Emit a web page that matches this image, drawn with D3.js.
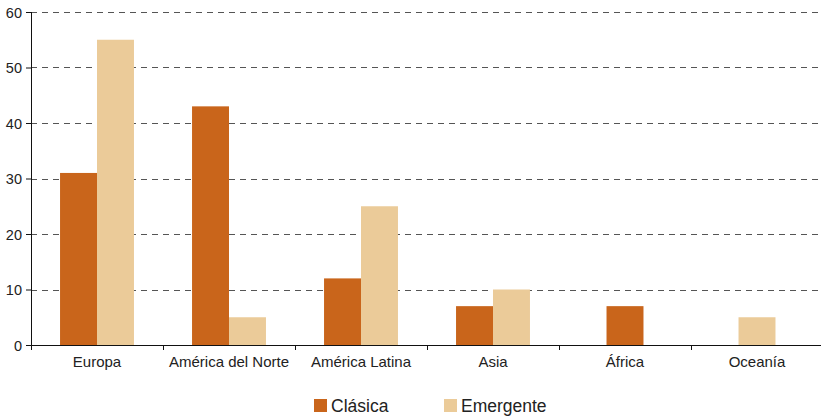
<!DOCTYPE html>
<html>
<head>
<meta charset="utf-8">
<script src="https://cdn.jsdelivr.net/npm/d3@7"></script>
<style>
  body { margin: 0; background: #fff; }
  svg text { font-family: Arial, "Liberation Sans", sans-serif; fill: #222; }
  .grid line { stroke: #555; stroke-dasharray: 6 5; }
  .axis path, .axis line { stroke: #111; }
</style>
</head>
<body>
<div id="grafico"></div>
<script>
"use strict"

// datos
var regiones = ["Europa", "América del Norte", "América Latina", "Asia", "África", "Oceanía"];
var clasica = [31, 43, 12, 7, 7, 0];
var emergente = [55, 5, 25, 10, 0, 5];
var series = ["Clásica", "Emergente"];
var colores = ["#C9651B", "#EBCB99"];
var ticksY = [0, 10, 20, 30, 40, 50, 60];

var larguraSVG = 821, alturaSVG = 416;
var margin = {top: 12, right: -2, bottom: 71, left: 31},
    larguraVis = larguraSVG - margin.left - margin.right,
    alturaVis = alturaSVG - margin.top - margin.bottom;

var svg = d3.select('#grafico').append('svg')
    .attr('width', larguraSVG)
    .attr('height', alturaSVG);

var g = svg.append('g')
    .attr('transform', 'translate(' + margin.left + ',' + margin.top + ')');

var x = d3.scaleBand()
    .domain(regiones)
    .range([0, larguraVis]);

var anchoBarra = x.bandwidth() * 0.28;

var y = d3.scaleLinear()
    .domain([0, 60])
    .range([alturaVis, 0]);

// rejilla
g.append('g')
    .attr('class', 'grid')
    .selectAll('line')
    .data(ticksY.filter(d => d > 0))
    .enter()
    .append('line')
    .attr('x1', 0)
    .attr('x2', larguraSVG)
    .attr('y1', d => Math.round(y(d)) + 0.5)
    .attr('y2', d => Math.round(y(d)) + 0.5);

// barras: las series sin valor se omiten y las restantes se centran
var valores = [clasica, emergente];
var barras = [];
regiones.forEach(function(r, i) {
  var presentes = series.filter((s, k) => valores[k][i] > 0);
  var centro = x(r) + x.bandwidth() / 2;
  var x1 = d3.scaleBand()
      .domain(presentes)
      .range([centro - presentes.length * anchoBarra / 2, centro + presentes.length * anchoBarra / 2]);
  presentes.forEach(function(s) {
    var k = series.indexOf(s);
    barras.push({x: x1(s), v: valores[k][i], color: colores[k]});
  });
});

g.append('g').selectAll('rect')
    .data(barras)
    .enter()
    .append('rect')
    .attr('x', d => d.x)
    .attr('y', d => y(d.v))
    .attr('width', anchoBarra)
    .attr('height', d => alturaVis - y(d.v))
    .attr('fill', d => d.color);

// ejes
var ejeY = g.append('g')
    .attr('class', 'axis')
    .call(d3.axisLeft(y).tickValues(ticksY).tickSize(5).tickPadding(4));
ejeY.select('.domain').attr('d', 'M0.5,' + alturaVis + 'V0');
ejeY.selectAll('text').style('font-size', '14.5px').attr('dy', '0.36em');
ejeY.attr('font-size', null).attr('font-family', null);

var ejeX = g.append('g')
    .attr('class', 'axis')
    .attr('transform', 'translate(0,' + alturaVis + ')')
    .call(d3.axisBottom(x).tickSize(0).tickPadding(11));
ejeX.select('.domain').attr('d', 'M0,0.5H' + larguraVis);
ejeX.selectAll('text').style('font-size', '15px');
ejeX.attr('font-size', null).attr('font-family', null);

// marcas entre categorias
ejeX.selectAll('.sep')
    .data(regiones)
    .enter()
    .append('line')
    .attr('class', 'sep')
    .attr('x1', d => Math.round(x(d)) + 0.5)
    .attr('x2', d => Math.round(x(d)) + 0.5)
    .attr('y1', 0)
    .attr('y2', 5)
    .attr('stroke', '#111');

// leyenda
var leyenda = svg.append('g').attr('transform', 'translate(314,399)');
var posLeyenda = [0, 130];
series.forEach(function(s, k) {
  var item = leyenda.append('g').attr('transform', 'translate(' + posLeyenda[k] + ',0)');
  item.append('rect').attr('width', 13).attr('height', 13).attr('fill', colores[k]);
  item.append('text').attr('x', 17).attr('y', 13).style('font-size', '17.5px').text(s);
});
</script>
</body>
</html>
